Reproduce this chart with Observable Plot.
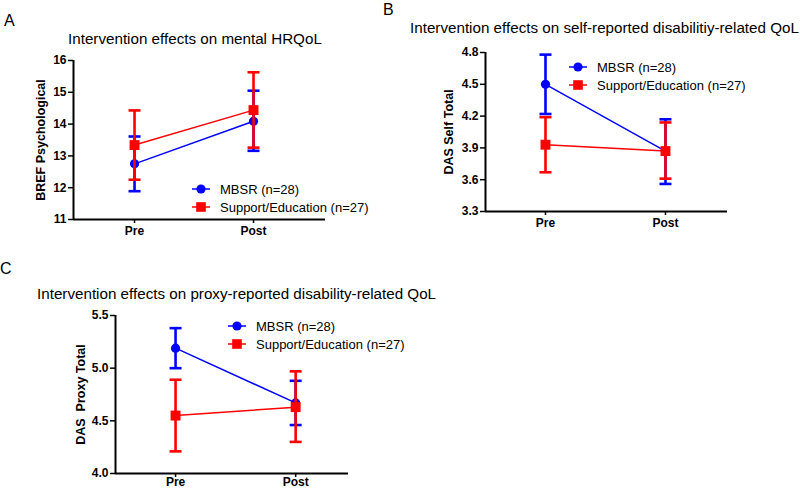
<!DOCTYPE html>
<html>
<head>
<meta charset="utf-8">
<script src="https://cdn.jsdelivr.net/npm/d3@7"></script>
<script src="https://cdn.jsdelivr.net/npm/@observablehq/plot@0.6"></script>
<style>
  html, body { margin: 0; padding: 0; background: #fff; }
  #root { position: relative; width: 800px; height: 489px; overflow: hidden; background: #fff; font-family: "Liberation Sans", Arial, sans-serif; }
  .title { position: absolute; font-size: 15.2px; color: #000; white-space: nowrap; line-height: 1; }
  .letter { position: absolute; font-size: 16px; color: #000; line-height: 1; }
  .legend { position: absolute; font-size: 13px; color: #000; white-space: nowrap; }
  .legend .row { display: flex; align-items: center; height: 18px; }
  .legend svg { margin-right: 10px; display: block; }
</style>
</head>
<body>
<div id="root"></div>
<script>
// ---- data ----
const times = ["Pre", "Post"];
const groups = ["MBSR (n=28)", "Support/Education (n=27)"];
const colors = ["#0000FF", "#FF0000"];

// Panel A: BREF Psychological
const aMbsrMean = [12.75, 14.09];
const aMbsrLo   = [11.89, 13.16];
const aMbsrHi   = [13.61, 15.05];
const aSuppMean = [13.34, 14.44];
const aSuppLo   = [12.25, 13.26];
const aSuppHi   = [14.43, 15.63];
const aTicks = [11, 12, 13, 14, 15, 16];

// Panel B: DAS Self Total
const bMbsrMean = [4.50, 3.87];
const bMbsrLo   = [4.22, 3.56];
const bMbsrHi   = [4.78, 4.17];
const bSuppMean = [3.93, 3.87];
const bSuppLo   = [3.67, 3.61];
const bSuppHi   = [4.19, 4.14];
const bTicks = [3.3, 3.6, 3.9, 4.2, 4.5, 4.8];

// Panel C: DAS Proxy Total
const cMbsrMean = [5.19, 4.67];
const cMbsrLo   = [5.00, 4.46];
const cMbsrHi   = [5.38, 4.88];
const cSuppMean = [4.55, 4.63];
const cSuppLo   = [4.21, 4.30];
const cSuppHi   = [4.89, 4.97];
const cTicks = [4.0, 4.5, 5.0, 5.5];

function rows(mean, lo, hi) {
  return times.map((t, i) => ({t: i + 1, mean: mean[i], lo: lo[i], hi: hi[i]}));
}

const hline = {
  draw(context, size) {
    const w = Math.sqrt(size / Math.PI);
    context.moveTo(-w, 0);
    context.lineTo(w, 0);
  }
};

const tickFont = {fontFamily: "Liberation Sans, Arial, sans-serif", fontWeight: "bold", fontSize: 12};

function groupMarks(data, color, symbol, r) {
  return [
    Plot.ruleX(data, {x: "t", y1: "lo", y2: "hi", stroke: color, strokeWidth: 2.6}),
    Plot.dot(data, {x: "t", y: "lo", symbol: hline, r: 6, fill: "none", stroke: color, strokeWidth: 2.6}),
    Plot.dot(data, {x: "t", y: "hi", symbol: hline, r: 6, fill: "none", stroke: color, strokeWidth: 2.6}),
    Plot.line(data, {x: "t", y: "mean", stroke: color, strokeWidth: 1.5}),
    Plot.dot(data, {x: "t", y: "mean", symbol, r, fill: color, stroke: "none"})
  ];
}

function panel(cfg) {
  const svg = Plot.plot({
    width: cfg.width,
    height: cfg.height,
    marginTop: cfg.mt, marginRight: cfg.mr, marginBottom: cfg.mb, marginLeft: cfg.ml,
    style: {background: "transparent", overflow: "visible", color: "#000"},
    x: {type: "linear", domain: cfg.xDomain},
    y: {domain: [cfg.yTicks[0], cfg.yTicks[cfg.yTicks.length - 1]]},
    marks: [
      Plot.axisY({ticks: cfg.yTicks, tickFormat: cfg.yFormat, tickSize: 5, tickPadding: 2, strokeWidth: 1.5, label: null, ...tickFont}),
      Plot.axisY({ticks: [], label: cfg.ylabel, labelArrow: "none", labelAnchor: "center", labelOffset: cfg.labelOffset, ...tickFont, fontSize: 12.5}),
      Plot.axisX({ticks: [1, 2], tickFormat: d => times[d - 1], tickSize: 4, tickPadding: cfg.xPad, strokeWidth: 1.5, label: null, ...tickFont}),
      Plot.ruleY([cfg.yTicks[0]], {stroke: "#000", strokeWidth: 2}),
      Plot.ruleX([cfg.xDomain[0]], {stroke: "#000", strokeWidth: 2}),
      ...groupMarks(cfg.mbsr, colors[0], "circle", 4.6),
      ...groupMarks(cfg.supp, colors[1], "square", 5.6)
    ]
  });
  svg.style.left = cfg.left + "px";
  svg.style.top = cfg.top + "px";
  svg.style.position = "absolute";
  return svg;
}

function legend(left, top) {
  const div = document.createElement("div");
  div.className = "legend";
  div.style.left = left + "px";
  div.style.top = top + "px";
  const syms = ["circle", "square"];
  groups.forEach((g, i) => {
    const row = document.createElement("div");
    row.className = "row";
    const c = colors[i];
    const mark = syms[i] === "circle"
      ? `<circle cx="9" cy="6" r="4.6" fill="${c}"/>`
      : `<rect x="4.2" y="1.2" width="9.6" height="9.6" fill="${c}"/>`;
    row.innerHTML = `<svg width="18" height="12"><line x1="0" x2="18" y1="6" y2="6" stroke="${c}" stroke-width="1.5"/>${mark}</svg><span>${g}</span>`;
    div.appendChild(row);
  });
  return div;
}

function text(cls, str, left, top) {
  const d = document.createElement("div");
  d.className = cls;
  d.textContent = str;
  d.style.left = left + "px";
  d.style.top = top + "px";
  return d;
}

const root = document.getElementById("root");

root.appendChild(panel({
  left: 0, top: 0, width: 400, height: 250, mt: 60, mr: 75, mb: 31, ml: 73, xPad: 3,
  xDomain: [0.487, 2.605], yTicks: aTicks, yFormat: d3.format("d"),
  ylabel: "BREF Psychological", labelOffset: 37,
  mbsr: rows(aMbsrMean, aMbsrLo, aMbsrHi), supp: rows(aSuppMean, aSuppLo, aSuppHi)
}));
root.appendChild(panel({
  left: 400, top: 0, width: 400, height: 250, mt: 52, mr: 73, mb: 39, ml: 85, xPad: 3,
  xDomain: [0.5, 2.517], yTicks: bTicks, yFormat: d3.format(".1f"),
  ylabel: "DAS Self Total", labelOffset: 41,
  mbsr: rows(bMbsrMean, bMbsrLo, bMbsrHi), supp: rows(bSuppMean, bSuppLo, bSuppHi)
}));
root.appendChild(panel({
  left: 0, top: 260, width: 450, height: 229, mt: 55, mr: 102, mb: 16, ml: 115, xPad: 0,
  xDomain: [0.5, 2.44], yTicks: cTicks, yFormat: d3.format(".1f"),
  ylabel: "DAS  Proxy Total", labelOffset: 39,
  mbsr: rows(cMbsrMean, cMbsrLo, cMbsrHi), supp: rows(cSuppMean, cSuppLo, cSuppHi)
}));

root.appendChild(text("letter", "A", 4, 13));
root.appendChild(text("letter", "B", 383, 2));
root.appendChild(text("letter", "C", 0, 261));
root.appendChild(text("title", "Intervention effects on mental HRQoL", 68, 31));
root.appendChild(text("title", "Intervention effects on self-reported disabilitiy-related QoL", 410, 20));
root.appendChild(text("title", "Intervention effects on proxy-reported disability-related QoL", 37, 286));
root.appendChild(legend(192, 180));
root.appendChild(legend(569, 58));
root.appendChild(legend(228, 317));
</script>
</body>
</html>
